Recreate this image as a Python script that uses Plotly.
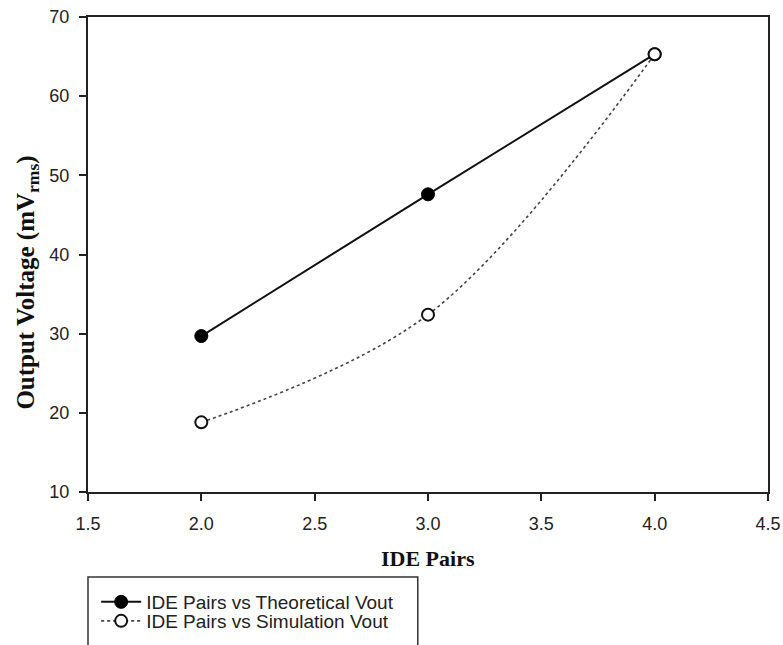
import plotly.graph_objects as go

# IDE pair counts and measured output voltages (mV rms)
ide_pairs = [2.0, 3.0, 4.0]
theoretical_vout = [29.7, 47.6, 65.3]
simulation_vout = [18.8, 32.4, 65.3]

x_ticks = [1.5, 2.0, 2.5, 3.0, 3.5, 4.0, 4.5]
y_ticks = [10, 20, 30, 40, 50, 60, 70]

sans = "Liberation Sans, Arial, sans-serif"
serif = "Liberation Serif, Times New Roman, serif"

fig = go.Figure()

fig.add_trace(go.Scatter(
    x=ide_pairs, y=theoretical_vout,
    mode="lines+markers",
    name="IDE Pairs vs Theoretical Vout",
    legend="legend",
    line=dict(color="#111111", width=2),
    marker=dict(symbol="circle", size=13, color="#000000",
                line=dict(color="#000000", width=1)),
))

fig.add_trace(go.Scatter(
    x=ide_pairs, y=simulation_vout,
    mode="lines+markers",
    name="IDE Pairs vs Simulation Vout",
    legend="legend2",
    line=dict(color="#444444", width=1.6, dash="dot", shape="spline", smoothing=1),
    marker=dict(symbol="circle", size=12, color="#ffffff",
                line=dict(color="#111111", width=2)),
))

axis_common = dict(
    showline=True, linecolor="#222222", linewidth=2, mirror=True,
    ticks="outside", ticklen=7, tickwidth=1.5, tickcolor="#222222",
    showgrid=False, zeroline=False, automargin=False,
    tickfont=dict(family=sans, size=18, color="#222222"),
)

fig.update_xaxes(range=[1.5, 4.5], tickvals=x_ticks,
                 ticktext=[f"{v:.1f}" for v in x_ticks],
                 ticklabelstandoff=7, **axis_common)
fig.update_yaxes(range=[10, 70], tickvals=y_ticks,
                 ticktext=[str(v) for v in y_ticks],
                 ticklabelstandoff=6, **axis_common)

# Axis titles
fig.add_annotation(text="<b>IDE Pairs</b>", xref="paper", yref="paper",
                   x=0.5, y=-0.139, xanchor="center", yanchor="middle",
                   showarrow=False,
                   font=dict(family=serif, size=22, color="#111111"))
fig.add_annotation(text="<b>Output Voltage (mV<sub>rms</sub>)</b>",
                   xref="paper", yref="paper", x=-0.116, y=0.44,
                   xanchor="left", yanchor="middle",
                   textangle=-90, showarrow=False,
                   font=dict(family=serif, size=25, color="#111111"))

# Legend frame running off the bottom edge
fig.add_shape(type="rect", xref="paper", yref="paper",
              x0=0.0, x1=0.485, y0=-0.179, y1=-0.40,
              line=dict(color="#333333", width=1.5), fillcolor="rgba(0,0,0,0)")

legend_common = dict(xanchor="left", yanchor="middle",
                     bgcolor="rgba(0,0,0,0)", borderwidth=0,
                     font=dict(family=sans, size=19, color="#222222"),
                     itemwidth=40)

fig.update_layout(
    width=783, height=645,
    margin=dict(l=88, r=15, t=17, b=153, autoexpand=False),
    paper_bgcolor="white", plot_bgcolor="white",
    showlegend=True,
    legend=dict(x=0.012, y=-0.2316, **legend_common),
    legend2=dict(x=0.012, y=-0.2716, **legend_common),
)

fig.write_html("out.html")
